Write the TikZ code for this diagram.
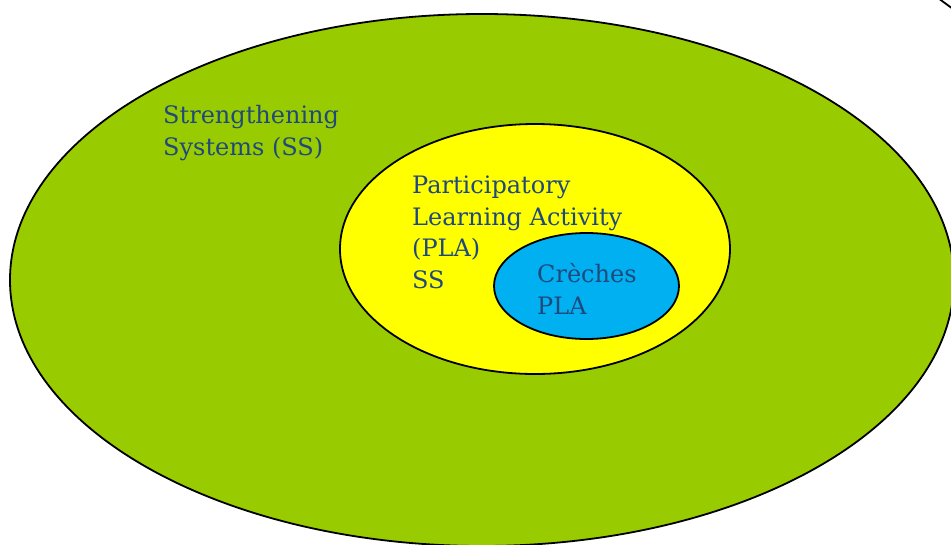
\documentclass[tikz,border=0pt]{standalone}
\usepackage{fontspec}
\setmainfont{DejaVu Serif}
\usetikzlibrary{shapes.geometric}
\definecolor{ssgreen}{HTML}{99CC00}
\definecolor{playellow}{HTML}{FFFF00}
\definecolor{crecheblue}{HTML}{00B0F0}
\definecolor{labelblue}{HTML}{1F497D}
\tikzset{
  zone/.style={ellipse,draw=black,line width=1.8pt,inner sep=0pt},
  zonetext/.style={anchor=base west,inner sep=0pt,align=left,text=labelblue,
    font=\fontsize{24}{31.5}\selectfont}
}
\begin{document}
\begin{tikzpicture}[x=1pt,y=-1pt]
  \useasboundingbox (0,0) rectangle (951,544);
  % nested zones
  \node[zone,fill=ssgreen,minimum width=944pt,minimum height=532pt] (ss) at (482,280) {};
  \node[zone,fill=playellow,minimum width=390pt,minimum height=250pt] (pla) at (535,249) {};
  \node[zone,fill=crecheblue,minimum width=185pt,minimum height=106pt] (creches) at (586.5,286) {};
  % labels (anchored at the last baseline)
  \node[zonetext] (sslabel) at (163,155) {Strengthening\\Systems (SS)};
  \node[zonetext] (plalabel) at (412,288) {Participatory\\Learning Activity\\(PLA)\\SS};
  \node[zonetext] (crecheslabel) at (537,314) {Cr\`eches\\PLA};
  % edge of a shape outside the frame
  \draw[line width=1.8pt] (938,-2) -- (953,9);
\end{tikzpicture}
\end{document}
